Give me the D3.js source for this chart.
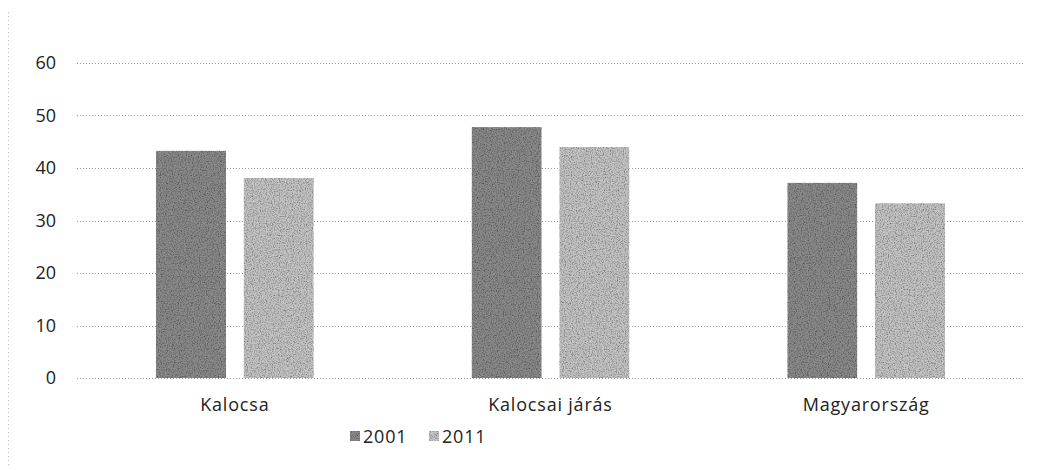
<!DOCTYPE html>
<html lang="hu">
<head>
<meta charset="utf-8">
<title>Kalocsa 2001 / 2011</title>
<style>
  body { margin: 0; background: #fff; }
  text { font-family: "Open Sans", "DejaVu Sans", sans-serif; fill: #222; }
</style>
</head>
<body>
<svg width="1044" height="470"></svg>
<script src="https://cdn.jsdelivr.net/npm/d3@7"></script>
<script>
const categories = ["Kalocsa", "Kalocsai járás", "Magyarország"];
const years = ["2001", "2011"];
const values2001 = [43.3, 47.8, 37.2];
const values2011 = [38.1, 44.0, 33.3];
const yTicks = [0, 10, 20, 30, 40, 50, 60];

const svg = d3.select("svg");
const margin = {top: 63, right: 20, bottom: 92, left: 77};
const width = 1044, height = 470;

const x = d3.scaleBand().domain(categories).range([margin.left, width - margin.right]);
const xs = d3.scaleBand().domain(years).range([0, x.bandwidth()]).paddingInner(0.2).paddingOuter(0.9);
const y = d3.scaleLinear().domain([0, 60]).range([height - margin.bottom, margin.top]);

const colors = {"2001": "#8a8a8a", "2011": "#c4c4c4"};

// grain filter to imitate the scanned texture
const defs = svg.append("defs");
const f = defs.append("filter").attr("id", "grain").attr("x", 0).attr("y", 0).attr("width", 1).attr("height", 1);
f.append("feTurbulence").attr("type", "fractalNoise").attr("baseFrequency", 0.85).attr("numOctaves", 2).attr("seed", 3).attr("result", "n");
f.append("feColorMatrix").attr("in", "n").attr("type", "matrix")
  .attr("values", "1.6 0 0 0 0.05  1.6 0 0 0 0.05  1.6 0 0 0 0.05  0 0 0 0 1").attr("result", "g");
f.append("feBlend").attr("in", "SourceGraphic").attr("in2", "g").attr("mode", "multiply").attr("result", "m");
f.append("feComposite").attr("in", "m").attr("in2", "SourceGraphic").attr("operator", "in");

// frame (dotted left edge)
svg.append("line").attr("x1", 8.5).attr("x2", 8.5).attr("y1", 12).attr("y2", 465)
  .attr("stroke", "#bbb").attr("stroke-dasharray", "1,3");

// gridlines
svg.append("g").selectAll("line").data(yTicks).join("line")
  .attr("x1", margin.left).attr("x2", width - margin.right)
  .attr("y1", d => Math.round(y(d)) + 0.5).attr("y2", d => Math.round(y(d)) + 0.5)
  .attr("stroke", "#999").attr("stroke-dasharray", "1,2");

// y axis labels
const yAxis = svg.append("g").attr("transform", `translate(${margin.left - 21},0)`)
  .call(d3.axisLeft(y).tickValues(yTicks).tickSize(0).tickPadding(0));
yAxis.select(".domain").remove();
yAxis.selectAll("text").attr("font-size", 18).attr("font-family", null).attr("fill", "#222");

// bars
const rows = categories.map((c, i) => ({cat: c, vals: [
  {year: "2001", v: values2001[i]}, {year: "2011", v: values2011[i]}]}));

const groups = svg.append("g").selectAll("g").data(rows).join("g")
  .attr("transform", d => `translate(${x(d.cat)},0)`);
groups.selectAll("rect").data(d => d.vals).join("rect")
  .attr("x", d => xs(d.year))
  .attr("width", xs.bandwidth())
  .attr("y", d => y(d.v))
  .attr("height", d => y(0) - y(d.v))
  .attr("fill", d => colors[d.year])
  .attr("filter", "url(#grain)");

// x axis labels
const xAxis = svg.append("g").attr("transform", `translate(0,${y(0) + 20})`)
  .call(d3.axisBottom(x).tickSize(0).tickPadding(0));
xAxis.select(".domain").remove();
xAxis.selectAll("text").attr("font-size", 18).attr("letter-spacing", 0.8)
  .attr("font-family", null).attr("fill", "#222");

// legend
const legend = svg.append("g").attr("transform", "translate(350,437)");
const item = legend.selectAll("g").data(years).join("g")
  .attr("transform", (d, i) => `translate(${i * 79},0)`);
item.append("rect").attr("x", 0).attr("y", -6).attr("width", 10).attr("height", 10)
  .attr("fill", d => colors[d]).attr("filter", "url(#grain)");
item.append("text").attr("x", 13).attr("y", 6).attr("font-size", 18).attr("letter-spacing", 0.8).text(d => d);
</script>
</body>
</html>
